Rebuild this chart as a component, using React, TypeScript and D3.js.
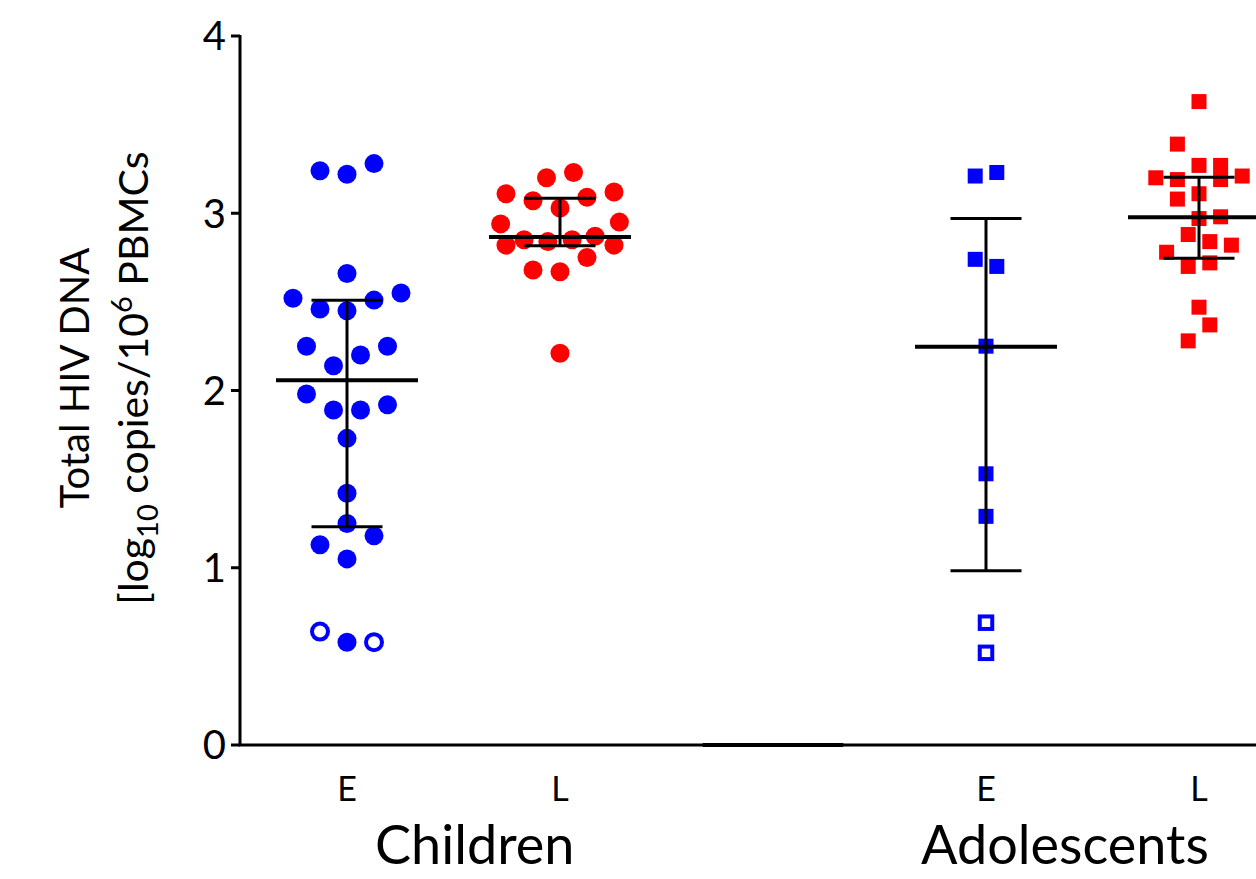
import React from 'react';
import * as d3 from 'd3';

// chart size (matches the reference photo)
const W = 1256;
const H = 879;

// x slots: two groups with a spacer between them
const slots = ['CE', 'CL', 'gap', 'AE', 'AL'];
const tickLabels = ['E', 'L', '', 'E', 'L'];
const groupNames = ['Children', 'Adolescents'];
const yTicks = [0, 1, 2, 3, 4];

// Children, early treated
const childrenEVals = [3.24, 3.22, 3.28, 2.66, 2.52, 2.46, 2.45, 2.51, 2.55, 2.25, 2.25, 2.2, 2.14,
  1.98, 1.89, 1.89, 1.92, 1.73, 1.42, 1.25, 1.18, 1.13, 1.05, 0.58, 0.64, 0.58];
const childrenEJit = [-1, 0, 1, 0, -2, -1, 0, 1, 2, -1.5, 1.5, 0.5, -0.5,
  -1.5, -0.5, 0.5, 1.5, 0, 0, 0, 1, -1, 0, 0, -1, 1];
const childrenEOpen = [0, 0, 0, 0, 0, 0, 0, 0, 0, 0, 0, 0, 0,
  0, 0, 0, 0, 0, 0, 0, 0, 0, 0, 0, 1, 1];

// Children, late treated
const childrenLVals = [3.2, 3.23, 3.11, 3.07, 3.09, 3.12, 3.03, 2.94, 2.95, 2.82, 2.85, 2.84, 2.85,
  2.87, 2.82, 2.75, 2.68, 2.67, 2.21];
const childrenLJit = [-0.5, 0.5, -2, -1, 1, 2, 0, -2.2, 2.2, -2, -1.33, -0.45, 0.45,
  1.3, 2, 1, -1, 0, 0];

// Adolescents, early treated
const adolEVals = [3.21, 3.23, 2.74, 2.7, 2.25, 1.53, 1.29, 0.69, 0.52];
const adolEJit = [-0.4, 0.4, -0.4, 0.4, 0, 0, 0, 0, 0];
const adolEOpen = [0, 0, 0, 0, 0, 0, 0, 1, 1];

// Adolescents, late treated
const adolLVals = [3.63, 3.39, 3.27, 3.27, 3.2, 3.19, 3.19, 3.21, 3.08, 3.11, 2.97, 2.98, 2.88,
  2.84, 2.82, 2.78, 2.7, 2.72, 2.47, 2.37, 2.28];
const adolLJit = [0, -0.8, 0, 0.8, -1.6, -0.8, 0.8, 1.6, -0.8, 0, 0, 0.8, -0.4,
  0.4, 1.2, -1.2, -0.4, 0.4, 0, 0.4, -0.4];

// median and interquartile range per column (CE, CL, AE, AL)
const statSlots = ['CE', 'CL', 'AE', 'AL'];
const medians = [2.058, 2.866, 2.247, 2.977];
const q1s = [1.232, 2.817, 0.983, 2.746];
const q3s = [2.509, 3.084, 2.971, 3.203];

const BLUE = '#0000ff';
const RED = '#ff0000';
const FONT = 'Lato, "Open Sans", sans-serif';

const x = d3.scalePoint<string>().domain(slots).range([347, 1199]);
const y = d3.scaleLinear().domain([0, 4]).range([745, 36]);
const jit = d3.scaleLinear().domain([-1, 1]).range([-27, 27]);
const step = x.step();

type Pt = { v: number; j: number; open: boolean };
const zipPts = (vals: number[], js: number[], opens?: number[]): Pt[] =>
  vals.map((v, i) => ({ v, j: js[i], open: opens ? opens[i] === 1 : false }));

const App = () => {
  const cE = zipPts(childrenEVals, childrenEJit, childrenEOpen);
  const cL = zipPts(childrenLVals, childrenLJit);
  const aE = zipPts(adolEVals, adolEJit, adolEOpen);
  const aL = zipPts(adolLVals, adolLJit);

  const circles = (pts: Pt[], slot: string, color: string) =>
    pts.map((p, i) => (
      <circle key={slot + i}
        cx={x(slot)! + jit(p.j)} cy={y(p.v)}
        r={p.open ? 8 : 9.5}
        fill={p.open ? 'white' : color}
        stroke={p.open ? color : 'none'} strokeWidth={4} />
    ));

  const squares = (pts: Pt[], slot: string, color: string) =>
    pts.map((p, i) => {
      const s = p.open ? 12.5 : 15;
      return (
        <rect key={slot + i}
          x={x(slot)! + jit(p.j) - s / 2} y={y(p.v) - s / 2}
          width={s} height={s}
          fill={p.open ? 'white' : color}
          stroke={p.open ? color : 'none'} strokeWidth={4} />
      );
    });

  const medHalf = step / 3;
  const capHalf = step / 6;

  return (
    <svg width={W} height={H} style={{ position: 'absolute', left: 0, top: 0, display: 'block', background: 'white' }}
      fontFamily={FONT}>
      {/* y axis */}
      <line x1={240} x2={240} y1={y(4) - 1} y2={y(0)} stroke="black" strokeWidth={3} />
      {yTicks.map(t => (
        <g key={t}>
          <line x1={231} x2={240} y1={y(t)} y2={y(t)} stroke="black" strokeWidth={3} />
          <text x={226} y={y(t)} dy="0.36em" textAnchor="end" fontSize={40}>{t}</text>
        </g>
      ))}
      {/* x axis */}
      <line x1={238.5} x2={W} y1={y(0)} y2={y(0)} stroke="black" strokeWidth={3} />
      <line x1={x('gap')! - step * 0.33} x2={x('gap')! + step * 0.33} y1={y(0)} y2={y(0)} stroke="black" strokeWidth={4} />
      {slots.map((s, i) => (
        <text key={s} x={x(s)} y={801} textAnchor="middle" fontSize={34}>{tickLabels[i]}</text>
      ))}
      <text x={x('CE')! + 28} y={864} fontSize={54}>{groupNames[0]}</text>
      <text x={x('AE')! - 65} y={864} fontSize={54}>{groupNames[1]}</text>

      {/* y label */}
      <text transform="translate(89,378) rotate(-90)" textAnchor="middle" fontSize={40}>Total HIV DNA</text>
      <text transform="translate(148,378) rotate(-90)" textAnchor="middle" fontSize={41}>
        [log<tspan fontSize={29} dy={10}>10</tspan><tspan dy={-10}> copies/10</tspan>
        <tspan fontSize={29} dy={-16}>6</tspan><tspan dy={16}> PBMCs</tspan>
      </text>

      {/* points */}
      {circles(cE, 'CE', BLUE)}
      {circles(cL, 'CL', RED)}
      {squares(aE, 'AE', BLUE)}
      {squares(aL, 'AL', RED)}

      {/* median and IQR */}
      {statSlots.map((s, i) => {
        const cx = x(s)!;
        return (
          <g key={s} stroke="black">
            <line x1={cx} x2={cx} y1={y(q3s[i])} y2={y(q1s[i])} strokeWidth={3} />
            <line x1={cx - capHalf} x2={cx + capHalf} y1={y(q3s[i])} y2={y(q3s[i])} strokeWidth={3} />
            <line x1={cx - capHalf} x2={cx + capHalf} y1={y(q1s[i])} y2={y(q1s[i])} strokeWidth={3} />
            <line x1={cx - medHalf} x2={cx + medHalf} y1={y(medians[i])} y2={y(medians[i])} strokeWidth={4} />
          </g>
        );
      })}
    </svg>
  );
};

export default App;
